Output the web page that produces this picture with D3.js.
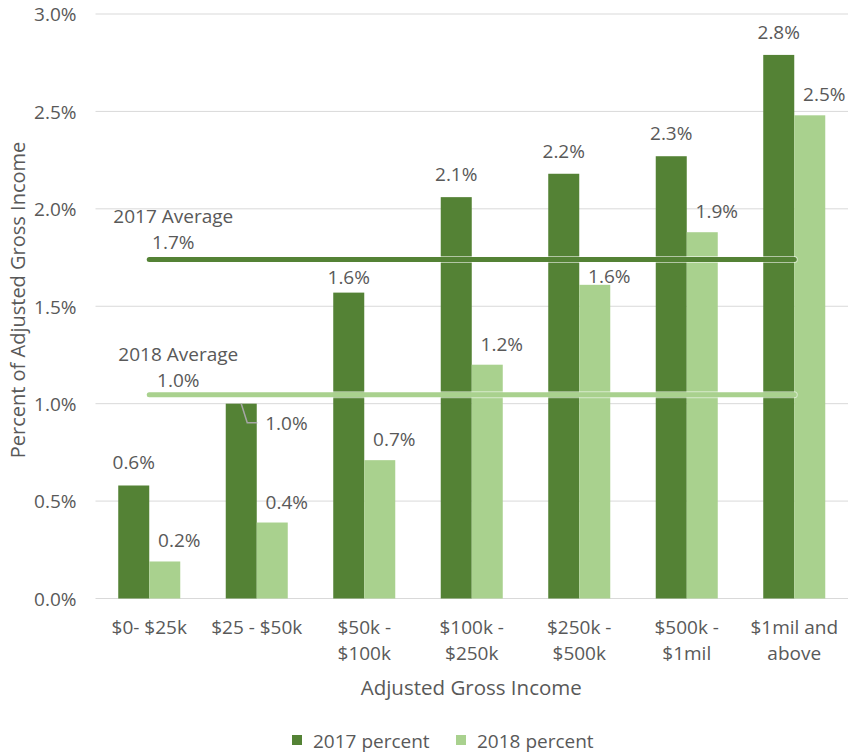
<!DOCTYPE html>
<html>
<head>
<meta charset="utf-8">
<script src="https://cdn.jsdelivr.net/npm/d3@7"></script>
<style>
  html, body { margin: 0; padding: 0; background: #fff; }
  svg { display: block; font-family: "Open Sans", "Liberation Sans", sans-serif; }
  text { fill: #595959; }
</style>
</head>
<body>
<svg id="chart" width="849" height="755"></svg>
<script>
// Income brackets (line breaks mark wrapped tick labels)
const categories = [
  "$0- $25k",
  "$25 - $50k",
  "$50k -\n$100k",
  "$100k -\n$250k",
  "$250k -\n$500k",
  "$500k -\n$1mil",
  "$1mil and\nabove"
];
const seriesNames = ["2017 percent", "2018 percent"];
// Percent of adjusted gross income
const values2017 = [0.58, 1.0, 1.57, 2.06, 2.18, 2.27, 2.79];
const values2018 = [0.19, 0.39, 0.71, 1.2, 1.61, 1.88, 2.48];
const average2017 = 1.74;
const average2018 = 1.046;
const averageLabels = ["2017 Average", "2018 Average"];
const yTicks = [0, 0.5, 1.0, 1.5, 2.0, 2.5, 3.0];
const xTitle = "Adjusted Gross Income";
const yTitle = "Percent of Adjusted Gross Income";

const colors = { "2017 percent": "#548235", "2018 percent": "#a9d18e" };

const svg = d3.select("#chart");
const plot = { left: 95.5, right: 848, top: 14, bottom: 598.5 };

const x = d3.scaleBand().domain(categories).range([plot.left, plot.right]);
const bw = x.bandwidth();
const x1 = d3.scaleBand().domain(seriesNames).range([bw * 0.2116, bw * 0.7884]);
const y = d3.scaleLinear().domain([0, 3]).range([plot.bottom, plot.top]);
const fmt = d3.format(".1f");
const pct = v => fmt(v) + "%";

// Gridlines
svg.append("g")
  .selectAll("line")
  .data(yTicks)
  .join("line")
  .attr("x1", plot.left).attr("x2", plot.right)
  .attr("y1", d => y(d)).attr("y2", d => y(d))
  .attr("stroke", "#d9d9d9").attr("stroke-width", 1);

// Y axis labels
const yAxis = svg.append("g")
  .attr("transform", `translate(${plot.left},0)`)
  .call(d3.axisLeft(y).tickValues(yTicks).tickFormat(pct).tickSize(0).tickPadding(19));
yAxis.select(".domain").remove();
yAxis.selectAll("text")
  .attr("fill", "#595959").attr("font-size", 19)
  .attr("font-family", "Open Sans, Liberation Sans, sans-serif")
  .attr("dy", "0.36em");

// X axis labels (wrapped)
const xAxis = svg.append("g")
  .attr("transform", `translate(0,${plot.bottom})`)
  .call(d3.axisBottom(x).tickSize(0).tickFormat(""));
xAxis.select(".domain").remove();
xAxis.selectAll(".tick").each(function(d) {
  const t = d3.select(this).append("text")
    .attr("text-anchor", "middle")
    .attr("fill", "#595959").attr("font-size", 19)
    .attr("font-family", "Open Sans, Liberation Sans, sans-serif");
  d.split("\n").forEach((line, i) => {
    t.append("tspan").attr("x", 0).attr("y", 35 + i * 26).text(line);
  });
});

// Bars
const rows = categories.map((c, i) => ({ c, vals: [values2017[i], values2018[i]] }));
const groups = svg.append("g").selectAll("g")
  .data(rows).join("g")
  .attr("transform", d => `translate(${x(d.c)},0)`);

groups.selectAll("rect")
  .data(d => seriesNames.map((s, k) => ({ s, v: d.vals[k] })))
  .join("rect")
  .attr("x", d => x1(d.s))
  .attr("width", x1.bandwidth())
  .attr("y", d => y(d.v))
  .attr("height", d => y(0) - y(d.v))
  .attr("fill", d => colors[d.s]);

// Average lines
const lineX1 = x(categories[0]) + bw / 2;
const lineX2 = x(categories[categories.length - 1]) + bw / 2;
const averages = [
  { v: average2017, color: colors["2017 percent"], name: averageLabels[0], dx: 24 },
  { v: average2018, color: colors["2018 percent"], name: averageLabels[1], dx: 29 }
];
const avgG = svg.append("g");
averages.forEach(a => {
  avgG.append("line")
    .attr("x1", lineX1).attr("x2", lineX2)
    .attr("y1", y(a.v)).attr("y2", y(a.v))
    .attr("stroke", "#ffffff").attr("stroke-opacity", 0.55)
    .attr("stroke-width", 7).attr("stroke-linecap", "round");
  avgG.append("line")
    .attr("x1", lineX1).attr("x2", lineX2)
    .attr("y1", y(a.v)).attr("y2", y(a.v))
    .attr("stroke", a.color)
    .attr("stroke-width", 5).attr("stroke-linecap", "round");
});
averages.forEach((a, k) => {
  const cx = lineX1 + a.dx;
  const base = y(a.v);
  avgG.append("text").attr("x", cx).attr("y", base - (k === 0 ? 36 : 34))
    .attr("text-anchor", "middle").attr("font-size", 19).text(a.name);
  avgG.append("text").attr("x", cx).attr("y", base - (k === 0 ? 10 : 8))
    .attr("text-anchor", "middle").attr("font-size", 19).text(pct(a.v));
});

// Data labels
const labelG = svg.append("g").attr("font-size", 19).attr("text-anchor", "middle");
// label placement tweaks: [series index][category index] -> extra dy
const nudgeDy = [{ 2: 7 }, { 4: 12 }];
rows.forEach((r, i) => {
  r.vals.forEach((v, k) => {
    const s = seriesNames[k];
    const cx = x(r.c) + x1(s) + x1.bandwidth() / 2;
    if (k === 0 && i === 1) {
      // label pulled out below the average line with a leader
      const top = y(v);
      labelG.append("path")
        .attr("d", `M${cx},${top} L${cx + 6},${top + 19} L${cx + 16},${top + 19}`)
        .attr("fill", "none").attr("stroke", "#a6a6a6").attr("stroke-width", 1.5);
      labelG.append("text").attr("x", cx + 24).attr("y", top + 26.5)
        .attr("text-anchor", "start").text(pct(v));
      return;
    }
    const gap = k === 0 ? 16 : 14;
    const dx = k === 0 ? 0 : 14.5;
    const extra = nudgeDy[k][i] || 0;
    labelG.append("text")
      .attr("x", cx + dx)
      .attr("y", y(v) - gap + extra)
      .text(pct(v));
  });
});

// Axis titles
svg.append("text")
  .attr("x", (plot.left + plot.right) / 2 - 0.5).attr("y", 695)
  .attr("text-anchor", "middle").attr("font-size", 20.5).text(xTitle);
svg.append("text")
  .attr("transform", "translate(25,300) rotate(-90)")
  .attr("text-anchor", "middle").attr("font-size", 20).text(yTitle);

// Legend
const legend = svg.append("g").attr("font-size", 19);
const legendX = [292, 456];
seriesNames.forEach((s, k) => {
  legend.append("rect").attr("x", legendX[k]).attr("y", 735)
    .attr("width", 10).attr("height", 10).attr("fill", colors[s]);
  legend.append("text").attr("x", legendX[k] + 21).attr("y", 748).text(s);
});
</script>
</body>
</html>
